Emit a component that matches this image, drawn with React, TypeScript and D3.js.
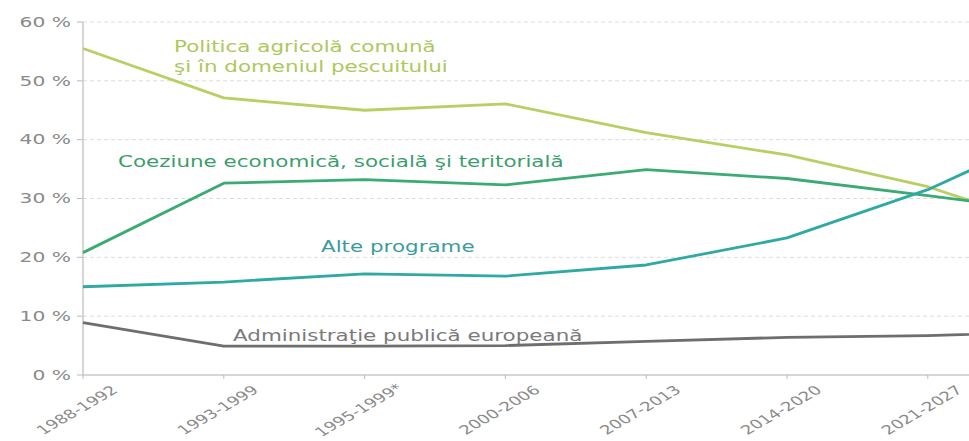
import React from "react";
import * as d3 from "d3";

const categories = ["1988-1992", "1993-1999", "1995-1999*", "2000-2006", "2007-2013", "2014-2020", "2021-2027", "2021-2027+"];
const tickLabels = ["1988-1992", "1993-1999", "1995-1999*", "2000-2006", "2007-2013", "2014-2020", "2021-2027"];
const yTicks = [0, 10, 20, 30, 40, 50, 60];

const cap = [55.5, 47.1, 45.0, 46.1, 41.2, 37.4, 32.0, 24.1];
const cohesion = [20.8, 32.6, 33.2, 32.3, 34.9, 33.4, 30.5, 27.4];
const other = [15.0, 15.8, 17.2, 16.8, 18.7, 23.3, 31.5, 42.4];
const admin = [8.9, 4.9, 4.9, 5.0, 5.7, 6.4, 6.7, 7.4];

const series = [
  { name: "cap", values: cap, color: "#b8cf63" },
  { name: "cohesion", values: cohesion, color: "#3aab72" },
  { name: "other", values: other, color: "#2fa9a3" },
  { name: "admin", values: admin, color: "#6e6e6e" },
];

const labels = [
  { lines: ["Politica agricolă comună", "şi în domeniul pescuitului"], x: 174, y: 52, color: "#acc85a" },
  { lines: ["Coeziune economică, socială şi teritorială"], x: 118, y: 167, color: "#3a9e6c" },
  { lines: ["Alte programe"], x: 321, y: 252, color: "#3a9c9c" },
  { lines: ["Administraţie publică europeană"], x: 233, y: 341, color: "#7a7a7a" },
];

const W = 969;
const H = 441;

export default function App() {
  const x = d3.scaleLinear().domain([0, categories.length - 1]).range([83, 83 + 7 * 140.8]);
  const y = d3.scaleLinear().domain([0, 60]).range([375, 22]);
  const line = d3
    .line<number>()
    .x((_, i) => x(i))
    .y((d) => y(d));
  const font = "'DejaVu Sans', Verdana, sans-serif";
  return (
    <svg
      width={W}
      height={H}
      style={{ position: "absolute", left: 0, top: 0, background: "#fff" }}
      fontFamily={font}
    >
      {yTicks.map((t) => (
        <g key={t}>
          {t > 0 && (
            <line x1={83} x2={W} y1={y(t)} y2={y(t)} stroke="#dcdcdc" strokeWidth={1} strokeDasharray="4,3" />
          )}
          <line x1={77} x2={83} y1={y(t)} y2={y(t)} stroke="#bbb" />
          <text
            transform={`translate(71,${y(t)}) scale(1.5,1)`}
            dy="0.35em"
            textAnchor="end"
            fontSize={13.5}
            fill="#8a8a8a"
          >
            {t} %
          </text>
        </g>
      ))}
      <line x1={83} x2={83} y1={y(60)} y2={y(0)} stroke="#c8c8c8" strokeWidth={1.5} />
      <line x1={83} x2={W} y1={y(0)} y2={y(0)} stroke="#c8c8c8" strokeWidth={1.5} />
      {tickLabels.map((lab, i) => (
        <g key={lab}>
          <line x1={x(i)} x2={x(i)} y1={y(0)} y2={y(0) + 4} stroke="#bbb" />
          <text
            transform={`translate(${x(i) - 6},${410}) scale(1.45,1) rotate(-40)`}
            textAnchor="middle"
            dy="0.35em"
            fontSize={12.5}
            fill="#8a8a8a"
          >
            {lab}
          </text>
        </g>
      ))}
      <g>
        {series.map((s) => (
          <path key={s.name} d={line(s.values) || ""} fill="none" stroke={s.color} strokeWidth={2.8} strokeLinejoin="round" />
        ))}
      </g>
      {labels.map((l) =>
        l.lines.map((t, k) => (
          <text
            key={t}
            transform={`translate(${l.x},${l.y + k * 20}) scale(1.34,1)`}
            fontSize={16}
            fill={l.color}
          >
            {t}
          </text>
        ))
      )}
    </svg>
  );
}
